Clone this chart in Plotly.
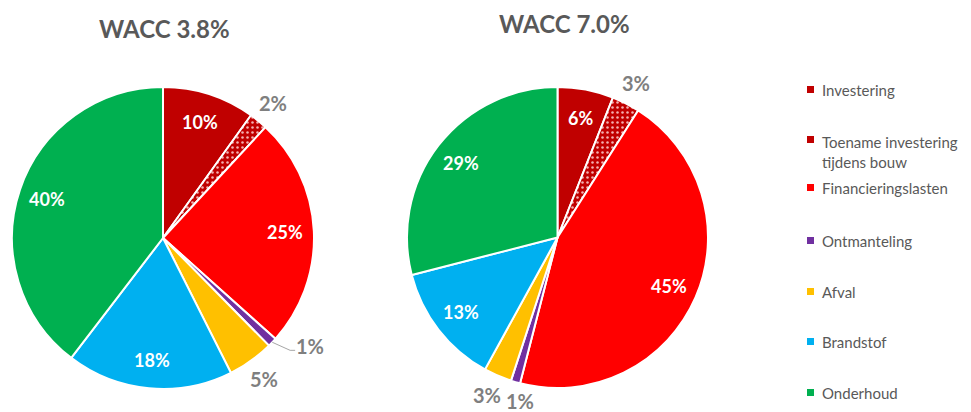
import math
import plotly.graph_objects as go

categories = ["Investering", "Toename investering tijdens bouw", "Financieringslasten",
              "Ontmanteling", "Afval", "Brandstof", "Onderhoud"]
legend_labels = ["Investering", "Toename investering<br>tijdens bouw", "Financieringslasten",
                 "Ontmanteling", "Afval", "Brandstof", "Onderhoud"]
colors = ["#C00000", "#C00000", "#FF0000", "#7030A0", "#FFC000", "#00B0F0", "#00B050"]
wacc_low = [10, 2, 25, 1, 5, 18, 40]
wacc_high = [6, 3, 45, 1, 3, 13, 29]
titles = ["WACC 3.8%", "WACC 7.0%"]

W, H = 971, 412
def px(x, y):
    return x / W, 1 - y / H

GRAY = "#595959"
LABEL_GRAY = "#7F7F7F"
FONT = "Lato"

# pie boxes in pixels (left, right, top, bottom)
boxes = [(12, 314, 87, 389), (407, 708, 87, 388)]
# label nudges (style): (pie, slice) -> (angle offset deg, radius factor, leader)
nudges = {(0, 3): (-7.3, 1.21, True), (1, 3): (-3.4, 1.115, False),
          (1, 4): (0.8, 1.15, False)}

fig = go.Figure()
annotations = []
shapes = []
for pi, (vals, (bx0, bx1, by0, by1)) in enumerate(zip([wacc_low, wacc_high], boxes)):
    fig.add_trace(go.Pie(
        labels=categories, values=vals, sort=False, direction="clockwise", rotation=0,
        marker=dict(colors=colors, line=dict(color="white", width=2),
                    pattern=dict(shape=["", ".", "", "", "", "", ""], fgcolor="#F4B0B0",
                                 bgcolor=colors, size=5, solidity=0.2)),
        textinfo="none",
        domain=dict(x=[bx0 / W, bx1 / W], y=[1 - by1 / H, 1 - by0 / H]),
        showlegend=False, hoverinfo="label+percent",
    ))
    cx, cy = (bx0 + bx1) / 2, (by0 + by1) / 2
    R = min(bx1 - bx0, by1 - by0) / 2
    total = sum(vals)
    cum = 0
    for si, v in enumerate(vals):
        mid = 2 * math.pi * (cum + v / 2) / total
        cum += v
        inside = v >= 6
        if inside:
            rf, dang, leader = 0.81, 0, False
        else:
            rf, dang, leader = 1.15, 0, False
        if (pi, si) in nudges:
            dang, rf, leader = nudges[(pi, si)]
        ang = mid + math.radians(dang)
        lx = cx + R * rf * math.sin(ang)
        ly = cy - R * rf * math.cos(ang)
        ax, ay = px(lx, ly)
        annotations.append(dict(
            text=f"{v}%", x=ax, y=ay, xref="paper", yref="paper", showarrow=False,
            xanchor="center", yanchor="middle",
            font=dict(size=18 if inside else 20, color="white" if inside else LABEL_GRAY,
                      family=FONT, weight="bold")))
        if leader:
            sx, sy = cx + R * math.sin(mid), cy - R * math.cos(mid)
            ex, ey = lx - 20, ly + 4
            fx, fy = lx - 15, ly + 4
            pts = [px(sx, sy), px(ex, ey), px(fx, fy)]
            path = "M {} {} L {} {} L {} {}".format(pts[0][0], pts[0][1], pts[1][0], pts[1][1],
                                                  pts[2][0], pts[2][1])
            shapes.append(dict(type="path", xref="paper", yref="paper", path=path,
                               line=dict(color="#A6A6A6", width=1)))

for t, (cx, cy) in zip(titles, [(164, 29), (564, 24)]):
    ax, ay = px(cx, cy)
    annotations.append(dict(text=t, x=ax, y=ay, xref="paper", yref="paper", showarrow=False,
                            xanchor="center", yanchor="middle",
                            font=dict(size=24, color=GRAY, family=FONT, weight="bold")))

legend_y = [90, 140, 188, 241, 292, 342, 393]
for lab, col, ly in zip(legend_labels, colors, legend_y):
    x0, y0 = px(807, ly - 4)
    x1, y1 = px(814, ly + 3)
    shapes.append(dict(type="rect", xref="paper", yref="paper", x0=x0, x1=x1, y0=y1, y1=y0,
                       fillcolor=col, line=dict(width=0)))
    two = "<br>" in lab
    tx, ty = px(820, ly + 11.5 if two else ly)
    annotations.append(dict(text=lab, x=tx, y=ty, xref="paper", yref="paper", showarrow=False,
                            xanchor="left", yanchor="middle", align="left",
                            font=dict(size=15, color=GRAY, family=FONT)))

fig.update_layout(width=W, height=H, margin=dict(l=0, r=0, t=0, b=0),
                  paper_bgcolor="white", plot_bgcolor="white",
                  annotations=annotations, shapes=shapes)
fig.write_html("out.html", config={"displayModeBar": False},
               post_script="document.body.style.margin='0';document.body.style.overflow='hidden';")
